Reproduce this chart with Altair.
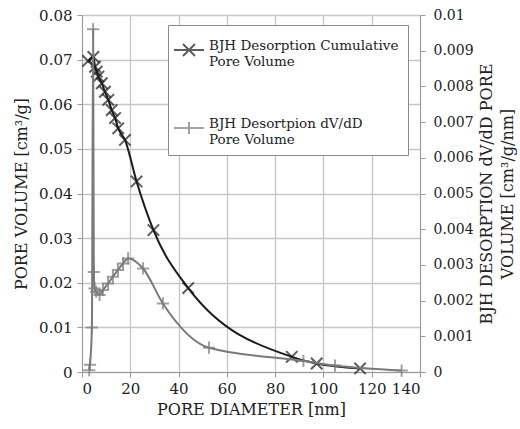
import altair as alt
import pandas as pd

# Cumulative pore volume (left axis)
cum_x = [2.5, 4.7, 5.4, 6.1, 6.8, 8.2, 9.5, 10.9, 12.3, 13.7, 15.0, 17.8, 22.6, 29.6, 44.0, 86.9, 97.2, 115.2]
cum_y = [0.0697, 0.0706, 0.0684, 0.0673, 0.0662, 0.0647, 0.0628, 0.0610, 0.0587, 0.0569, 0.0546, 0.0520,
         0.0427, 0.0318, 0.0188, 0.0034, 0.0019, 0.0008]

# dV/dD pore volume (right axis)
dv_x = [3.0, 3.3, 4.1, 4.6, 4.9, 5.2, 5.9, 7.3, 8.7, 10.8, 12.8, 14.9, 17.0, 19.1, 25.3, 33.5, 52.6, 91.7, 104.8, 132.4]
dv_y = [0.00005, 0.0002, 0.00125, 0.0096, 0.0028, 0.00234, 0.00225, 0.00216, 0.0023, 0.00248, 0.00267,
        0.00286, 0.00304, 0.00318, 0.0029, 0.00192, 0.00068, 0.00031, 0.00018, 0.00004]

series = ["BJH Desorption Cumulative|Pore Volume", "BJH Desortpion dV/dD|Pore Volume"]
x_ticks = [0, 20, 40, 60, 80, 100, 120, 140]
left_ticks = [0, 0.01, 0.02, 0.03, 0.04, 0.05, 0.06, 0.07, 0.08]
right_ticks = [0, 0.001, 0.002, 0.003, 0.004, 0.005, 0.006, 0.007, 0.008, 0.009, 0.01]

FONT = "DejaVu Serif"
BLACK = "#1a1a1a"
GRAY = "#7a7a7a"
X_PATH = "M-1,-1L1,1M-1,1L1,-1"
P_PATH = "M-1,0L1,0M0,-1L0,1"
LX_PATH = "M-1,0L1,0M-0.4,-0.4L0.4,0.4M-0.4,0.4L0.4,-0.4"
LP_PATH = "M-1,0L1,0M0,-0.4L0,0.4M-0.4,0L0.4,0"

cum = pd.DataFrame({"d": cum_x, "v": cum_y, "series": series[0]})
dv = pd.DataFrame({"d": dv_x, "v": dv_y, "series": series[1]})

xenc = alt.X("d:Q", scale=alt.Scale(domain=[0, 140], nice=False),
             axis=alt.Axis(values=x_ticks, title="PORE DIAMETER [nm]", format="d",
                           grid=True, titlePadding=5, labelPadding=4))

left_axis = alt.Axis(values=left_ticks, format=".2~f", title="PORE VOLUME [cm³/g]", orient="left",
                     grid=True, titlePadding=9, labelPadding=5)
right_axis = alt.Axis(values=right_ticks, format=".3~f", orient="right", grid=False,
                      title=["BJH DESORPTION dV/dD PORE", "VOLUME [cm³/g/nm]"],
                      titleAngle=270, titleLineHeight=21,
                      labelFontSize=14, titlePadding=0, labelPadding=8)

color = alt.Color("series:N", scale=alt.Scale(domain=series, range=[BLACK, GRAY]),
                  legend=alt.Legend(orient="none", legendX=86, legendY=10, title=None,
                                    labelExpr="split(datum.label, '|')",
                                    fillColor="white", strokeColor="#8a8a8a", padding=9,
                                    symbolSize=900, symbolStrokeWidth=2, labelOffset=4,
                                    labelFont=FONT, labelFontSize=13.5, labelLimit=0,
                                    labelColor="#222",
                                    rowPadding=44, labelBaseline="alphabetic", symbolOffset=-4))
shape = alt.Shape("series:N", scale=alt.Scale(domain=series, range=[LX_PATH, LP_PATH]))

y_left = alt.Y("v:Q", scale=alt.Scale(domain=[0, 0.08], nice=False), axis=left_axis)
y_right = alt.Y("v:Q", scale=alt.Scale(domain=[0, 0.01], nice=False), axis=right_axis)

cum_line = alt.Chart(cum).mark_line(interpolate="monotone", color=BLACK, strokeWidth=2).encode(x=xenc, y=y_left)
cum_pts = alt.Chart(cum).mark_point(shape=X_PATH, size=130, filled=False, color=BLACK, strokeWidth=2).encode(x=xenc, y=y_left)
legend_layer = alt.Chart(cum).mark_point(filled=False, strokeWidth=2).encode(
    x=xenc, y=y_left, color=color, shape=shape).transform_filter("false")

dv_line = alt.Chart(dv).mark_line(interpolate="monotone", color=GRAY, strokeWidth=2).encode(x=xenc, y=y_right)
dv_pts = alt.Chart(dv).mark_point(shape=P_PATH, size=150, filled=False, color=GRAY, strokeWidth=2).encode(x=xenc, y=y_right)

left = alt.layer(cum_line, cum_pts, legend_layer)
right = alt.layer(dv_line, dv_pts)

chart = alt.layer(left, right).resolve_scale(y="independent").properties(
    width=338, height=357,
    autosize=alt.AutoSizeParams(type="none"),
    padding={"left": 82, "top": 15, "right": 100, "bottom": 57},
).configure_view(stroke=None).configure_axis(
    labelFont=FONT, titleFont=FONT, labelFontSize=15, titleFontSize=16,
    labelColor="#222", titleColor="#222", titleFontWeight="normal",
    domainColor="#9a9a9a", tickColor="#9a9a9a", gridColor="#c6c6c6", gridWidth=1.3,
    tickSize=5,
)

chart.save("out.html", embed_options={"renderer": "svg", "actions": False})
